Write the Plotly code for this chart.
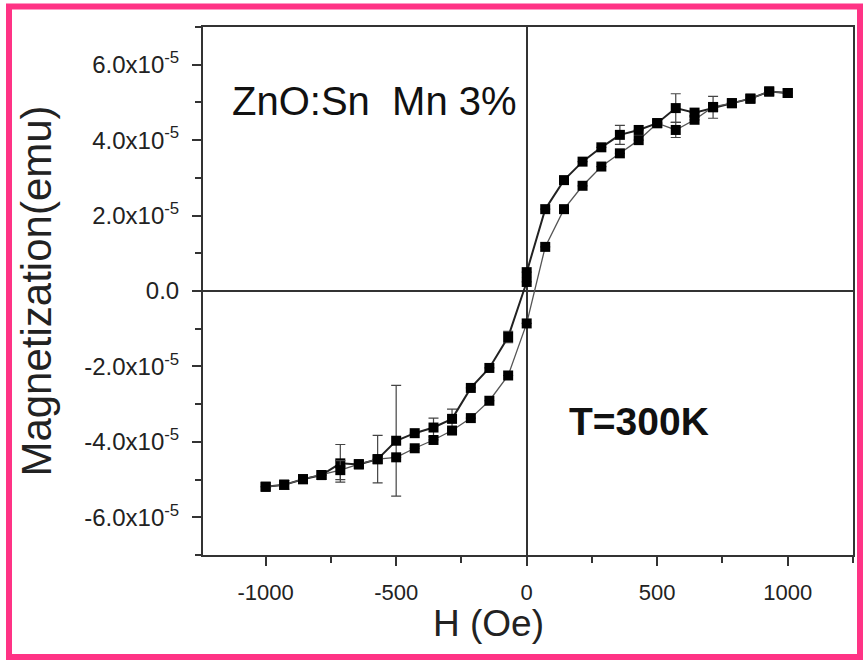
import plotly.graph_objects as go

# Descending branch (from +H to -H)
H_desc = [1000, 929, 857, 786, 714, 643, 571, 500, 429, 357, 286, 214, 143, 71, 0, 0,
          -71, -143, -214, -286, -357, -429, -500, -571, -643, -714, -786, -857, -929, -1000]
M_desc = [5.25, 5.29, 5.10, 4.98, 4.87, 4.73, 4.85, 4.45, 4.27, 4.14, 3.81, 3.43, 2.94, 2.17, 0.50, 0.24,
          -1.22, -2.04, -2.57, -3.39, -3.62, -3.77, -3.97, -4.46, -4.60, -4.57, -4.88, -4.99, -5.14, -5.19]
E_desc = [0, 0, 0, 0, 0.29, 0, 0.38, 0, 0, 0.25, 0, 0, 0, 0, 0, 0,
          0.15, 0, 0, 0.26, 0.25, 0, 1.47, 0.63, 0, 0.50, 0, 0, 0.12, 0]

# Ascending branch (from -H to +H)
H_asc = [-1000, -929, -857, -786, -714, -643, -571, -500, -429, -357, -286, -214, -143, -71, 0,
         71, 143, 214, 286, 357, 429, 500, 571, 643, 714, 786, 857, 929, 1000]
M_asc = [-5.19, -5.14, -4.99, -4.88, -4.75, -4.59, -4.46, -4.41, -4.17, -3.95, -3.70, -3.37, -2.91, -2.24, -0.86,
         1.17, 2.17, 2.79, 3.30, 3.65, 4.00, 4.45, 4.27, 4.54, 4.88, 4.98, 5.10, 5.29, 5.25]
E_asc = [0, 0.12, 0, 0, 0.25, 0, 0, 0, 0, 0, 0, 0, 0, 0, 0,
         0, 0, 0, 0, 0, 0, 0, 0.20, 0, 0, 0, 0, 0, 0]

SCALE = 1e-5
y_tickvals = [-6, -4, -2, 0, 2, 4, 6]
y_ticktext = ["-6.0x10<sup>-5</sup>", "-4.0x10<sup>-5</sup>", "-2.0x10<sup>-5</sup>", "0.0",
              "2.0x10<sup>-5</sup>", "4.0x10<sup>-5</sup>", "6.0x10<sup>-5</sup>"]
y_minor = [-7, -5, -3, -1, 1, 3, 5, 7]
x_tickvals = [-1000, -500, 0, 500, 1000]
x_minor = [-1250, -750, -250, 250, 750, 1250]

FONT = "Liberation Sans, Arial, Helvetica, sans-serif"

fig = go.Figure()
for H, M, E, lw, lc in [(H_desc, M_desc, E_desc, 2, "#222222"), (H_asc, M_asc, E_asc, 1.3, "#555555")]:
    fig.add_trace(go.Scatter(
        x=H, y=[m * SCALE for m in M],
        mode="lines+markers",
        line=dict(color=lc, width=lw),
        marker=dict(symbol="square", size=10, color="black"),
        error_y=dict(type="data", array=[e * SCALE for e in E], visible=True,
                     color="#444444", thickness=1.2, width=5),
        showlegend=False,
    ))

L, R, T, B = 203, 14, 27, 105
W, Hh = 867, 660
pw, ph = W - L - R, Hh - T - B

def px(x):
    return (x - L) / pw

def py(y):
    return (Hh - B - y) / ph

fig.add_shape(type="rect", xref="paper", yref="paper",
              x0=px(9), x1=px(860), y0=py(657), y1=py(6.5),
              line=dict(color="#ff3385", width=6), fillcolor="rgba(0,0,0,0)", layer="above")

fig.add_annotation(text="ZnO:Sn  Mn 3%", xref="x", yref="y", x=-1135, y=5.05e-5,
                   xanchor="left", yanchor="middle", showarrow=False,
                   font=dict(family=FONT, size=40, color="#111111"))
fig.add_annotation(text="<b>T=300K</b>", xref="x", yref="y", x=155, y=-3.45e-5,
                   xanchor="left", yanchor="middle", showarrow=False,
                   font=dict(family=FONT, size=39, color="#111111"))
# x-axis title (placed slightly left of centre, as in the original)
fig.add_annotation(text="H (Oe)", xref="paper", yref="paper", x=px(488), y=py(623),
                   xanchor="center", yanchor="middle", showarrow=False,
                   font=dict(family=FONT, size=37, color="#222222"))

axis_common = dict(showline=True, linecolor="#333333", linewidth=2, mirror=True,
                   showgrid=False, zeroline=True, zerolinecolor="#333333", zerolinewidth=2,
                   ticks="outside", tickcolor="#333333", tickwidth=1.5, ticklen=9)

fig.update_xaxes(range=[-1240, 1250], tickvals=x_tickvals, ticktext=[str(v) for v in x_tickvals],
                 tickfont=dict(family=FONT, size=22, color="#222222"), ticklabelstandoff=8,
                 minor=dict(tickvals=x_minor, ticks="outside", ticklen=6, tickcolor="#333333", tickwidth=1.5),
                 **axis_common)
fig.update_yaxes(range=[-7e-5, 7e-5], tickvals=[v * SCALE for v in y_tickvals], ticktext=y_ticktext,
                 tickfont=dict(family=FONT, size=24, color="#222222"), ticklabelstandoff=8,
                 minor=dict(tickvals=[v * SCALE for v in y_minor], ticks="outside", ticklen=6,
                            tickcolor="#333333", tickwidth=1.5),
                 title=dict(text="Magnetization(emu)", font=dict(family=FONT, size=42, color="#222222"), standoff=20),
                 **axis_common)

fig.update_layout(width=W, height=Hh, margin=dict(l=L, r=R, t=T, b=B, autoexpand=False),
                  plot_bgcolor="white", paper_bgcolor="white")

fig.write_html("out.html", config={"displayModeBar": False},
               post_script="document.body.style.margin='0';document.body.style.padding='0';")
